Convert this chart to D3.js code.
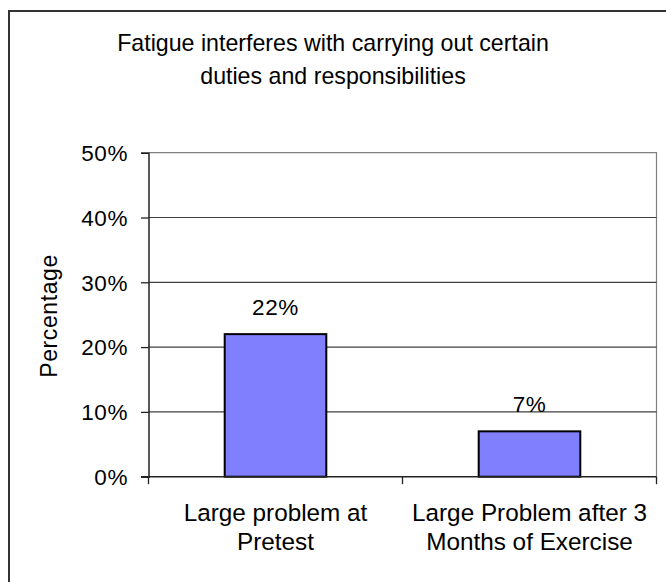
<!DOCTYPE html>
<html>
<head>
<meta charset="utf-8">
<script src="https://cdn.jsdelivr.net/npm/d3@7"></script>
<style>
html,body{margin:0;padding:0;background:#fff;}
svg{display:block;}
text{font-family:"Liberation Sans", Arial, sans-serif; fill:#000;}
</style>
</head>
<body>
<svg id="chart" width="666" height="582"></svg>
<script>
const titleLines = ["Fatigue interferes with carrying out certain", "duties and responsibilities"];
const categories = ["Large problem at Pretest", "Large Problem after 3 Months of Exercise"];
const categoryLines = [["Large problem at", "Pretest"], ["Large Problem after 3", "Months of Exercise"]];
const values = [22, 7];
const yTicks = [0, 10, 20, 30, 40, 50];
const yTitle = "Percentage";

const svg = d3.select("#chart");
const plot = {left: 148.5, right: 656.5, top: 152.7, bottom: 476.7};

// outer chart border
svg.append("rect").attr("x", 9).attr("y", 11).attr("width", 700).attr("height", 700)
  .attr("fill", "none").attr("stroke", "#333").attr("stroke-width", 2);

// title
const title = svg.append("text").attr("text-anchor", "middle").style("font-size", "23.2px");
titleLines.forEach((t, i) => {
  title.append("tspan").attr("x", 333).attr("y", 51 + i * 32.5).text(t);
});

const x = d3.scaleBand().domain(categories).range([plot.left, plot.right]).paddingInner(0.6).paddingOuter(0.3);
const y = d3.scaleLinear().domain([0, 50]).range([plot.bottom, plot.top]);

// plot area border (top, right)
svg.append("path")
  .attr("d", `M${plot.left},${y(50)}H${plot.right}V${plot.bottom}`)
  .attr("fill", "none").attr("stroke", "#808080").attr("stroke-width", 1.2);

// gridlines
svg.append("g").selectAll("line").data(yTicks.filter(d => d > 0 && d < 50)).join("line")
  .attr("x1", plot.left).attr("x2", plot.right)
  .attr("y1", d => y(d)).attr("y2", d => y(d))
  .attr("stroke", "#404040").attr("stroke-width", 1.2);

// y axis
const yAxis = d3.axisLeft(y).tickValues(yTicks).tickSize(7.5).tickPadding(13).tickFormat(d => d + "%");
const gy = svg.append("g").attr("transform", `translate(${plot.left},0)`).call(yAxis);
gy.select(".domain").attr("stroke", "#222").attr("stroke-width", 1.5);
gy.selectAll(".tick line").attr("stroke", "#222").attr("stroke-width", 1.3);
gy.selectAll(".tick text").style("font-size", "22.5px").style("letter-spacing", "0.6px")
  .attr("font-family", null).attr("dy", "0.35em");

// bars
svg.append("g").selectAll("rect").data(values).join("rect")
  .attr("x", (d, i) => x(categories[i]))
  .attr("width", x.bandwidth())
  .attr("y", d => y(d))
  .attr("height", d => y(0) - y(d))
  .attr("fill", "#8080FF").attr("stroke", "#000").attr("stroke-width", 2);

// x axis baseline and ticks
const xOuter = d3.scaleLinear().domain([0, categories.length]).range([plot.left, plot.right]);
svg.append("line").attr("x1", plot.left - 7.5).attr("x2", plot.right)
  .attr("y1", plot.bottom).attr("y2", plot.bottom).attr("stroke", "#222").attr("stroke-width", 1.5);
svg.append("g").selectAll("line").data(d3.range(categories.length + 1)).join("line")
  .attr("x1", d => xOuter(d)).attr("x2", d => xOuter(d))
  .attr("y1", plot.bottom).attr("y2", plot.bottom + 7.5)
  .attr("stroke", "#222").attr("stroke-width", 1.3);

// value labels
svg.append("g").selectAll("text").data(values).join("text")
  .attr("x", (d, i) => x(categories[i]) + x.bandwidth() / 2)
  .attr("y", d => y(d) - 19)
  .attr("text-anchor", "middle")
  .style("font-size", "22.5px").style("letter-spacing", "0.6px")
  .text(d => d + "%");

// category labels
categoryLines.forEach((lines, i) => {
  const t = svg.append("text").attr("text-anchor", "middle").style("font-size", "24.3px");
  lines.forEach((ln, j) => {
    t.append("tspan").attr("x", x(categories[i]) + x.bandwidth() / 2).attr("y", 520.5 + j * 29.5).text(ln);
  });
});

// y title
svg.append("text")
  .attr("transform", `translate(57,316) rotate(-90)`)
  .attr("text-anchor", "middle")
  .style("font-size", "23px").style("letter-spacing", "0.6px")
  .text(yTitle);
</script>
</body>
</html>
